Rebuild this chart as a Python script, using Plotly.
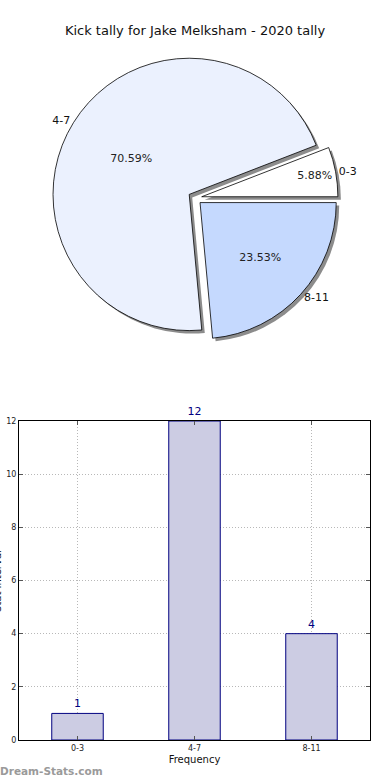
import plotly.graph_objects as go

# ---- data ----
categories = ["0-3", "4-7", "8-11"]
counts = [1, 12, 4]
pie_colors = ["#ffffff", "#ebf1fe", "#c5d9fe"]
title_text = "Kick tally for Jake Melksham - 2020 tally"
y_title = "Stat Interval"
x_title = "Frequency"
watermark = "Dream-Stats.com"

W, H = 390, 780
FONT = "DejaVu Sans"

def px_x(p):
    return p / W

def px_y(p):
    return 1 - p / H

pull = [0.05, 0.05, 0.05]
total = sum(counts)
# matplotlib-style start: first slice begins at 3 o'clock, going counterclockwise
rotation = 90 - 360.0 * counts[0] / total

# pie domain in pixels (center ~ (195,198))
cy = 198
half = 143
dom_y = [px_y(cy + half), px_y(cy - half)]
dom_x = [0, 1]
sh_dx, sh_dy = 3, 3
shadow_dom_x = [px_x(2 * sh_dx), 1]
shadow_dom_y = [px_y(cy + half + sh_dy), px_y(cy - half + sh_dy)]

fig = go.Figure()

# shadow
fig.add_trace(go.Pie(
    labels=categories, values=counts, sort=False, direction="counterclockwise",
    rotation=rotation, pull=pull, domain=dict(x=shadow_dom_x, y=shadow_dom_y),
    marker=dict(colors=["#8c8c8c"] * 3, line=dict(width=0)),
    textinfo="none", hoverinfo="skip", showlegend=False, automargin=False,
))

# main pie with percentages inside
fig.add_trace(go.Pie(
    labels=categories, values=counts, sort=False, direction="counterclockwise",
    rotation=rotation, pull=pull, domain=dict(x=dom_x, y=dom_y),
    marker=dict(colors=pie_colors, line=dict(color="#000000", width=0.8)),
    texttemplate="%{percent:.2%}", textposition="inside",
    insidetextorientation="horizontal",
    insidetextfont=dict(family=FONT, size=11, color="#222222"),
    showlegend=False, automargin=False,
))

# labels outside
fig.add_trace(go.Pie(
    labels=categories, values=counts, sort=False, direction="counterclockwise",
    rotation=rotation, pull=pull, domain=dict(x=dom_x, y=dom_y),
    marker=dict(colors=["rgba(0,0,0,0)"] * 3, line=dict(width=0)),
    texttemplate="%{label}", textposition="outside",
    outsidetextfont=dict(family=FONT, size=11, color="#111111"),
    hoverinfo="skip", showlegend=False, automargin=False,
))

# bar chart
fig.add_trace(go.Bar(
    x=categories, y=counts, width=0.44,
    marker=dict(color="#ccccE3", line=dict(color="#000080", width=1)),
    text=[str(c) for c in counts], textposition="outside",
    textfont=dict(family=FONT, size=11, color="#000080"),
    cliponaxis=False, showlegend=False,
))

fig.update_layout(
    width=W, height=H,
    margin=dict(l=0, r=0, t=0, b=0, pad=0, autoexpand=False),
    paper_bgcolor="white", plot_bgcolor="white",
    font=dict(family=FONT, color="#222222"),
    title=dict(text=title_text, x=0.5, xanchor="center", y=px_y(30), yanchor="middle",
               font=dict(family=FONT, size=13, color="#111111"), automargin=False),
    xaxis=dict(
        domain=[px_x(19), px_x(370)], anchor="y",
        range=[-0.5, 2.5], type="category", automargin=False,
        showline=True, linecolor="black", linewidth=1, mirror="ticks",
        ticks="inside", ticklen=4, tickcolor="#555555",
        showgrid=True, gridcolor="#b8b8b8", griddash="1px,2px", gridwidth=1,
        tickfont=dict(family=FONT, size=8, color="#222222"),
        title=dict(text=x_title, font=dict(family=FONT, size=10, color="#111111"), standoff=4),
        zeroline=False,
    ),
    yaxis=dict(
        domain=[px_y(740), px_y(421)], anchor="x",
        range=[0, 12], dtick=2, automargin=False,
        showline=True, linecolor="black", linewidth=1, mirror="ticks",
        ticks="inside", ticklen=4, tickcolor="#555555",
        showgrid=True, gridcolor="#b8b8b8", griddash="1px,2px", gridwidth=1,
        tickfont=dict(family=FONT, size=8, color="#222222"),
        zeroline=False,
    ),
    annotations=[
        dict(text=y_title, textangle=-90, x=0, y=px_y(581), xref="paper", yref="paper",
             xanchor="center", yanchor="middle", showarrow=False, xshift=-3,
             font=dict(family=FONT, size=10, color="#111111")),
        dict(text="<b>" + watermark + "</b>", x=0, y=px_y(771), xref="paper", yref="paper",
             xanchor="left", yanchor="middle", showarrow=False, xshift=-2,
             font=dict(family=FONT, size=10.5, color="#9a9a9a")),
    ],
)

fig.write_html("out.html", config={"displayModeBar": False},
               post_script="document.body.style.margin='0';")
